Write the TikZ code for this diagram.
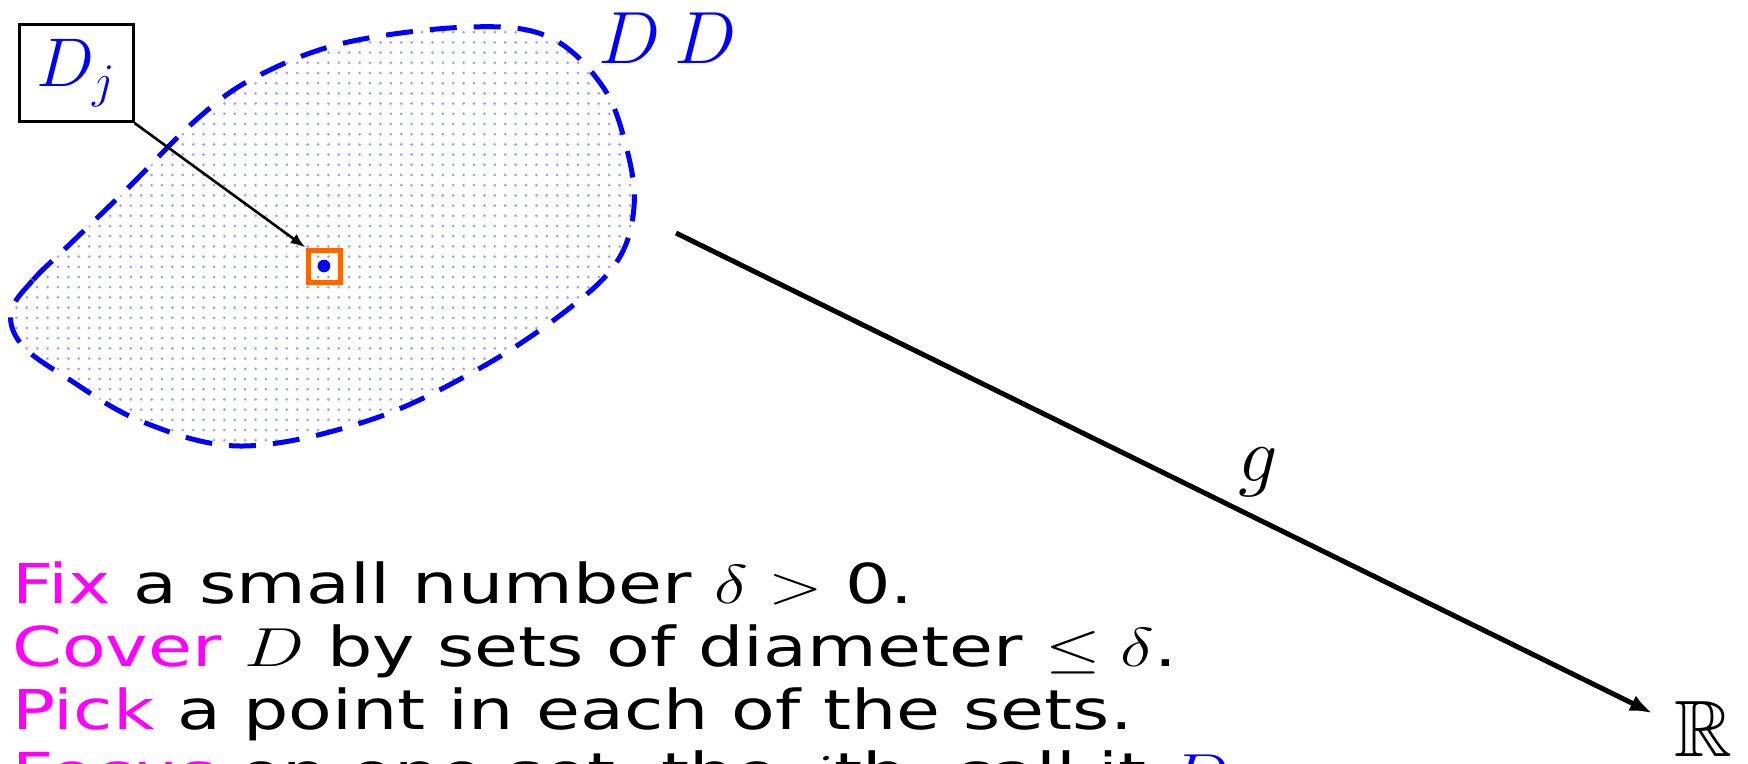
\RequirePackage{fix-cm}
\documentclass[tikz,border=0pt]{standalone}
\usepackage{amssymb}
\usepackage{graphicx}
\usepackage{fontspec}
\newfontfamily\txtfont{DejaVu Sans}
\usetikzlibrary{arrows.meta}
\definecolor{myblue}{RGB}{0,0,255}
\definecolor{myorange}{RGB}{255,102,0}
\definecolor{mymag}{RGB}{255,0,255}
\definecolor{dotc}{RGB}{160,160,238}
\newcommand{\wide}[1]{\scalebox{1.3}[1]{#1}}
\begin{document}
\begin{tikzpicture}[x=1pt,y=-1pt,
  txt/.style={anchor=base west,inner sep=0pt,font=\txtfont\fontsize{55}{65}\selectfont},
  bigmath/.style={inner sep=0pt,font=\fontsize{74}{80}\selectfont},
  blobline/.style={draw=myblue,line width=5pt,dash pattern=on 27pt off 17pt},
  labelbox/.style={draw=black,line width=3pt,minimum width=114pt,minimum height=97pt,inner sep=0pt,font=\fontsize{69}{75}\selectfont},
  pickbox/.style={draw=myorange,line width=5pt,minimum size=32pt,inner sep=0pt},
  maparrow/.style={line width=5pt,-{Latex[length=22pt,width=17pt]}},
  ptr/.style={line width=2.6pt,-{Latex[length=15pt,width=11pt]}}
]
\useasboundingbox (0,0) rectangle (1748,763);
\def\blobpath{plot[smooth cycle,tension=0.6] coordinates {(11,312) (33,280) (67,247) (129,187) (196,120) (254,78) (344,43) (469,27) (549,37) (603,87) (627,150) (634,207) (618,260) (571,307) (482,367) (370,420) (243,446) (143,422) (67,378) (22,345)}}
\begin{scope}
  \clip \blobpath;
  \foreach \i in {0,...,61} {
    \foreach \k in {0,...,43} {
      \fill[dotc] (\i*10.4+6,\k*10.2+22) circle (1.5);
    }
  }
\end{scope}
\draw[blobline] \blobpath;
% labels
\node[bigmath,text=myblue,anchor=base] (dd1) at (630,63) {$D$};
\node[bigmath,text=myblue,anchor=base] (dd2) at (706,63) {$D$};
\node[labelbox,text=myblue] (dj) at (76,73) {$D_j$};
\node[pickbox] (pick) at (324,266) {};
\fill[myblue] (pick.center) circle (6.3);
\draw[ptr] (dj.south east) -- (pick.north west);
% map g
\coordinate (gstart) at (676,233);
\node[inner sep=0pt,font=\fontsize{80}{86}\selectfont,anchor=base] (R) at (1703,756) {$\mathbb{R}$};
\coordinate (gend) at (1652,713);
\draw[maparrow] (gstart) -- (gend);
\node[inner sep=0pt,font=\fontsize{78}{84}\selectfont,anchor=base] (g) at (1258,481) {$g$};
% text
\node[txt] (l1) at (12,603) {\wide{{\color{mymag}Fix} a small number $\delta>$ 0.}};
\node[txt] (l2) at (12,666) {\wide{{\color{mymag}Cover} $D$ by sets of diameter $\le\delta$.}};
\node[txt] (l3) at (12,729) {\wide{{\color{mymag}Pick} a point in each of the sets.}};
\node[txt] (l4) at (12,792) {\wide{{\color{mymag}Focus} on one set, the $j$th, call it {\color{myblue}$D_j$}.}};
\end{tikzpicture}
\end{document}
